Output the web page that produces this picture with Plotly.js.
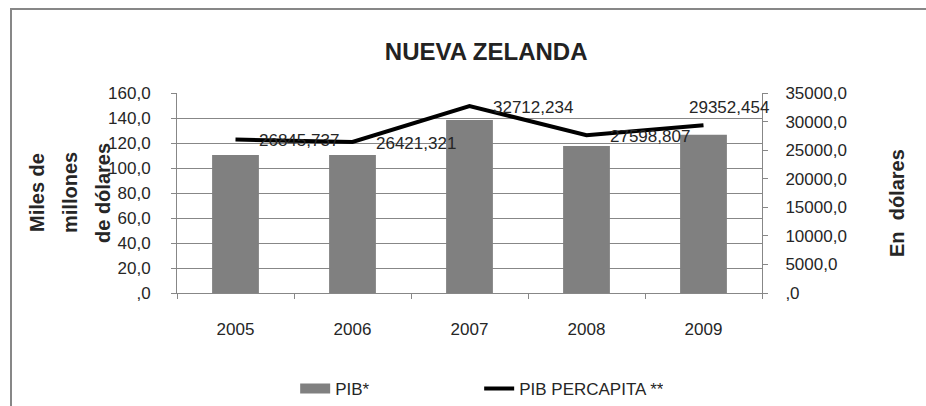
<!DOCTYPE html>
<html>
<head>
<meta charset="utf-8">
<script src="https://cdn.plot.ly/plotly-3.0.1.min.js"></script>
<style>
  html, body { margin: 0; padding: 0; background: #fff; overflow: hidden; }
  #wrap { position: relative; width: 926px; height: 406px; overflow: hidden; }
  #chart { position: absolute; left: 0; top: 0; width: 926px; height: 406px; }
  #frame { position: absolute; left: 10px; top: 8px; width: 1000px; height: 1000px;
           border: 2px solid #878787; pointer-events: none; box-sizing: border-box; }
</style>
</head>
<body>
<div id="wrap">
  <div id="chart"></div>
  <div id="frame"></div>
</div>
<script>
// ---- data ----
const years = ['2005', '2006', '2007', '2008', '2009'];
const pib = [110.4, 110.4, 138.4, 117.6, 126.6];            // miles de millones de dólares
const pibPerCapita = [26845.737, 26421.321, 32712.234, 27598.807, 29352.454]; // dólares
const leftTickVals = [0, 20, 40, 60, 80, 100, 120, 140, 160];
const leftTickText = [',0', '20,0', '40,0', '60,0', '80,0', '100,0', '120,0', '140,0', '160,0'];
const rightTickVals = [0, 5000, 10000, 15000, 20000, 25000, 30000, 35000];
const rightTickText = [',0', '5000,0', '10000,0', '15000,0', '20000,0', '25000,0', '30000,0', '35000,0'];
const seriesNames = ['PIB*', 'PIB PERCAPITA **'];
const chartTitle = 'NUEVA ZELANDA';
const leftTitleLines = ['Miles de', 'millones', 'de dólares'];
const rightTitle = 'En  dólares';

const FONT = 'Liberation Sans, Arial, sans-serif';
const TXT = '#262626';
const GRID = '#878787';
const BAR = '#808080';

const fmt = v => v.toFixed(3).replace('.', ',');

const traces = [
  {
    type: 'bar', x: years, y: pib, name: seriesNames[0],
    marker: { color: BAR }, width: 0.4, showlegend: false, hoverinfo: 'skip'
  },
  { // legend proxy for bar series (wide grey swatch), draws nothing in the plot
    type: 'scatter', mode: 'lines', x: [years[0]], y: [null], name: seriesNames[0],
    line: { color: BAR, width: 11 }, hoverinfo: 'skip'
  },
  {
    type: 'scatter', mode: 'lines', x: years, y: pibPerCapita, yaxis: 'y2',
    name: seriesNames[1], line: { color: '#000', width: 4 }, hoverinfo: 'skip'
  }
];

const annotations = [];
pibPerCapita.forEach((v, i) => {
  const last = i === pibPerCapita.length - 1;
  annotations.push({
    x: i, y: v, xref: 'x', yref: 'y2', text: fmt(v), showarrow: false,
    xanchor: 'left', yanchor: 'middle',
    xshift: last ? -17 : 21, yshift: last ? 18 : -1,
    font: { family: FONT, size: 17, color: TXT }
  });
});
const leftShifts = [-140, -107, -74];
leftTitleLines.forEach((t, i) => {
  annotations.push({
    x: 0, y: 0.5, xref: 'paper', yref: 'paper', text: t, showarrow: false,
    textangle: -90, xanchor: 'center', yanchor: 'middle', xshift: leftShifts[i],
    font: { family: FONT, size: 20, color: TXT, weight: 'bold' }
  });
});
annotations.push({
  x: 1, y: 0.5, xref: 'paper', yref: 'paper', text: rightTitle, showarrow: false,
  textangle: -90, xanchor: 'center', yanchor: 'middle', xshift: 135, yshift: -10,
  font: { family: FONT, size: 20, color: TXT, weight: 'bold' }
});

const layout = {
  width: 926, height: 406,
  margin: { l: 177, r: 164, t: 93, b: 113, pad: 0, autoexpand: false },
  paper_bgcolor: '#fff', plot_bgcolor: '#fff',
  font: { family: FONT, size: 17, color: TXT },
  title: {
    text: chartTitle, xref: 'container', yref: 'container', x: 0.525, y: 0.872,
    xanchor: 'center', yanchor: 'middle',
    font: { family: FONT, size: 24, color: '#222', weight: 'bold' }
  },
  xaxis: {
    type: 'category', categoryorder: 'array', categoryarray: years,
    range: [-0.5, years.length - 0.5], tickangle: 0,
    tickson: 'boundaries', ticks: 'outside', ticklen: 5,
    tickcolor: GRID, showline: true, linecolor: GRID, linewidth: 1,
    showgrid: false, ticklabelstandoff: 21, fixedrange: true, automargin: false,
    tickfont: { family: FONT, size: 17, color: TXT }
  },
  yaxis: {
    range: [0, 160], tickvals: leftTickVals, ticktext: leftTickText,
    ticks: 'outside', ticklen: 5, tickcolor: GRID, showline: true, linecolor: GRID,
    showgrid: true, gridcolor: GRID, gridwidth: 1, zeroline: false,
    ticklabelstandoff: 17, fixedrange: true, automargin: false,
    tickfont: { family: FONT, size: 17, color: TXT }
  },
  yaxis2: {
    overlaying: 'y', side: 'right', range: [0, 35000],
    tickvals: rightTickVals, ticktext: rightTickText,
    ticks: 'outside', ticklen: 5, tickcolor: GRID, showline: true, linecolor: GRID,
    showgrid: false, zeroline: false, ticklabelstandoff: 14, fixedrange: true, automargin: false,
    tickfont: { family: FONT, size: 17, color: TXT }
  },
  showlegend: true,
  legend: {
    orientation: 'h', x: 0.202, xanchor: 'left',
    yref: 'container', y: 0.042, yanchor: 'middle',
    entrywidth: 139, entrywidthmode: 'pixels', itemwidth: 30,
    font: { family: FONT, size: 17, color: TXT }, bgcolor: 'rgba(0,0,0,0)'
  },
  annotations: annotations,
  bargap: 0.6
};

Plotly.newPlot('chart', traces, layout, { staticPlot: true, displayModeBar: false });
</script>
</body>
</html>
